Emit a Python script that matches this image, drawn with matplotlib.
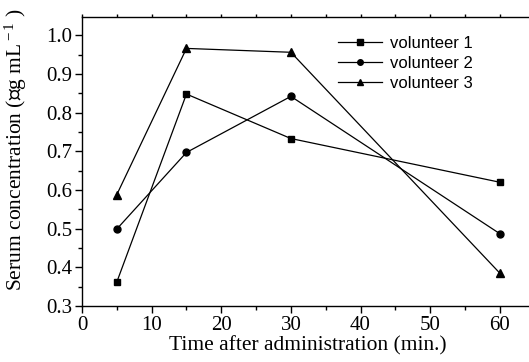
import matplotlib
matplotlib.use("Agg")
import matplotlib.pyplot as plt
from matplotlib.ticker import MultipleLocator

time = [5, 15, 30, 60]
v1 = [0.362, 0.848, 0.733, 0.620]
v2 = [0.499, 0.697, 0.842, 0.487]
v3 = [0.588, 0.966, 0.956, 0.385]
labels = ["volunteer 1", "volunteer 2", "volunteer 3"]
xticks = [0, 10, 20, 30, 40, 50, 60]
yticks = [0.3, 0.4, 0.5, 0.6, 0.7, 0.8, 0.9, 1.0]

plt.rcParams["mathtext.fontset"] = "custom"
plt.rcParams["mathtext.rm"] = "Liberation Serif"
plt.rcParams["mathtext.it"] = "Liberation Serif:italic"

W, H = 529, 362
fig = plt.figure(figsize=(W/100, H/100), dpi=100)
ax = fig.add_axes([82/W, 1-306/H, 452.6/W, 289.3/H])

serif = "Liberation Serif"
sans = "Liberation Sans"

for y, m, ms, lab in zip([v1, v2, v3], ["s", "o", "^"], [5.0, 5.0, 6.0], labels):
    ax.plot(time, y, color="black", lw=0.9, marker=m, ms=ms, label=lab)

ax.set_xlim(0, 65)
ax.set_ylim(0.3, 1.048)
ax.set_xticks(xticks)
ax.set_yticks(yticks)
ax.set_yticklabels([f"{t:.1f}" for t in yticks])
ax.xaxis.set_minor_locator(MultipleLocator(5))
ax.yaxis.set_minor_locator(MultipleLocator(0.05))
ax.tick_params(which="major", direction="out", length=5, width=1, labelsize=15, pad=2)
ax.tick_params(which="minor", direction="out", length=3, width=1)
ax.tick_params(axis="x", which="both", top=True)
for lab in ax.get_xticklabels() + ax.get_yticklabels():
    lab.set_fontfamily(serif)
for s in ax.spines.values():
    s.set_linewidth(1.0)
# short ticks on top
for t in ax.xaxis.get_major_ticks() + ax.xaxis.get_minor_ticks():
    t.tick2line.set_markersize(2)

ax.set_xlabel("Time after administration (min.)", fontfamily=serif, fontsize=15.5, labelpad=1)
fig.text(16/W, 1-150/H, "Serum concentration (\u221dg mL$^{\\rm -1}$ )", rotation=90,
         ha="center", va="center", fontfamily=serif, fontsize=15.5)

leg = ax.legend(loc="upper left", bbox_to_anchor=(0.532, 0.985), frameon=False,
                prop={"family": sans, "size": 12}, handlelength=2.65,
                markerscale=0.8, labelspacing=0.3, handletextpad=0.48)

fig.savefig("out.png", dpi=100)
